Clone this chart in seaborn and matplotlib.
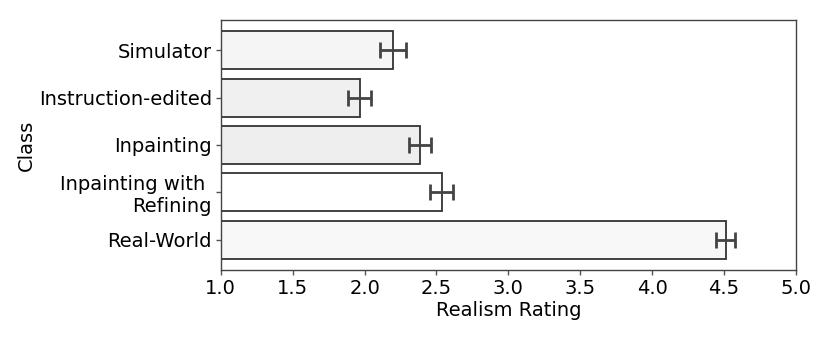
import matplotlib
matplotlib.use("Agg")
import matplotlib.pyplot as plt
import seaborn as sns
import pandas as pd

# Data
classes = ["Simulator", "Instruction-edited", "Inpainting",
           "Inpainting with \nRefining", "Real-World"]
mean_rating = [2.20, 1.965, 2.385, 2.535, 4.51]
err_rating = [0.09, 0.078, 0.078, 0.082, 0.068]
bar_colors = ["#f5f5f5", "#f0f0f0", "#eeeeee", "#ffffff", "#f8f8f8"]

sns.set_theme(style="ticks")
plt.rcParams["font.family"] = ["DejaVu Sans"]
plt.rcParams["text.color"] = "black"
plt.rcParams["axes.labelcolor"] = "black"
plt.rcParams["xtick.color"] = "black"
plt.rcParams["ytick.color"] = "black"

df = pd.DataFrame({"Class": classes, "Realism Rating": mean_rating})

fig, ax = plt.subplots(figsize=(8.3, 3.46), dpi=100)

sns.barplot(
    data=df,
    x="Realism Rating",
    y="Class",
    hue="Class",
    palette=bar_colors,
    legend=False,
    edgecolor="#333333",
    linewidth=1.3,
    width=0.8,
    errorbar=None,
    ax=ax
)

ax.errorbar(
    mean_rating,
    range(len(classes)),
    xerr=err_rating,
    fmt="none",
    ecolor="#444444",
    elinewidth=2,
    capsize=6,
    capthick=2
)

ax.set_xlim(1.0, 5.0)
ax.set_xticks([1.0, 1.5, 2.0, 2.5, 3.0, 3.5, 4.0, 4.5, 5.0])
ax.tick_params(labelsize=14, length=3.5, width=1, pad=3)
ax.tick_params(axis="both", colors="#555555", labelcolor="black")
ax.set_xlabel("Realism Rating", fontsize=14, labelpad=2)
ax.set_ylabel("Class", fontsize=14, labelpad=2)
for s in ax.spines.values():
    s.set_color("#444444")
    s.set_linewidth(1.0)

fig.subplots_adjust(left=0.266, right=0.959, top=0.942, bottom=0.22)
fig.savefig("out.png")
